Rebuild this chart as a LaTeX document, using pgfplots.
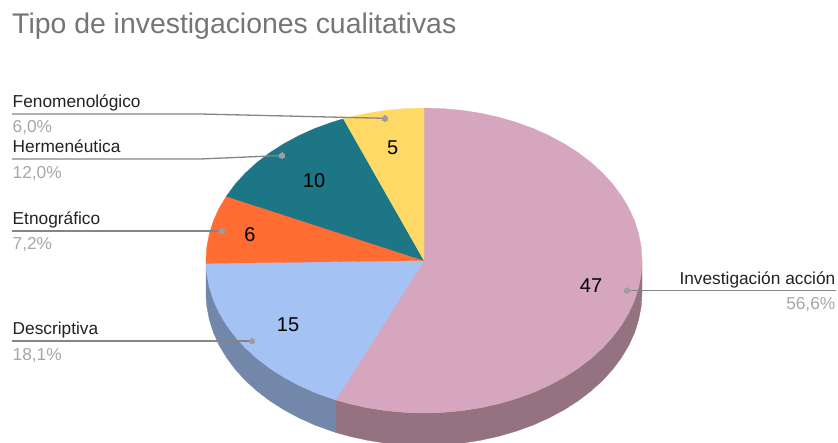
\documentclass[border=0pt]{standalone}
\usepackage{pgfplots}
\pgfplotsset{compat=1.18}
\usepackage{fontspec}
\setmainfont{Liberation Sans}
\definecolor{cpink}{HTML}{D5A6BD}
\definecolor{cblue}{HTML}{A4C2F4}
\definecolor{corange}{HTML}{FF6D33}
\definecolor{cteal}{HTML}{1C7686}
\definecolor{cyellow}{HTML}{FFD966}
\definecolor{wpink}{HTML}{957280}
\definecolor{wblue}{HTML}{7387AB}
\definecolor{ctitle}{HTML}{757575}
\definecolor{cpct}{HTML}{A6A6A6}
\definecolor{clab}{HTML}{222222}
\definecolor{cline}{HTML}{858585}
\definecolor{cdot}{HTML}{9E9E9E}
\newcommand{\lab}[1]{{\fontsize{17.3}{20}\selectfont\color{clab}#1}}
\newcommand{\pct}[1]{{\fontsize{17.3}{20}\selectfont\color{cpct}#1}}
\newcommand{\num}[1]{{\fontsize{20}{24}\selectfont\color{black}#1}}
\begin{document}
\begin{tikzpicture}
\path[use as bounding box] (0,0) rectangle (838pt,442pt);
\begin{axis}[
  at={(0,0)}, anchor=south west,
  width=838pt, height=442pt, scale only axis,
  xmin=0, xmax=838, ymin=0, ymax=442, y dir=reverse,
  axis lines=none, clip=true,
  every axis plot/.append style={line join=round},
]
% side walls
\addplot[fill=wpink, draw=wpink, line width=0.3pt] coordinates {
(642,260.5)(641.2,273.8)(638.7,287)(634.6,300)(628.9,312.7)(621.6,324.9)(612.8,336.75)(602.6,348)(591,358.5)(578.2,368.3)(564.1,377.3)(549,385.4)(533,392.6)(516.1,398.7)(498.6,403.8)(480.4,407.8)(461.9,410.7)(443,412.4)(424,413)(405,412.4)(386.1,410.7)(367.6,407.8)(349.4,403.8)(335.8,400)
(335.8,432.5)(349.4,436.3)(367.6,440.3)(386.1,443.2)(405,444.9)(424,445.5)(443,444.9)(461.9,443.2)(480.4,440.3)(498.6,436.3)(516.1,431.2)(533,425.1)(549,417.9)(564.1,409.8)(578.2,400.8)(591,391)(602.6,380.5)(612.8,369.25)(621.6,357.4)(628.9,345.2)(634.6,332.5)(638.7,319.5)(641.2,306.3)(642,293)(642,260.5)};
\addplot[fill=wblue, draw=wblue, line width=0.3pt] coordinates {
(335.8,400)(331.9,398.7)(315,392.6)(299,385.4)(283.9,377.3)(269.8,368.3)(257,358.5)(245.4,348)(235.2,336.75)(226.4,324.9)(219.1,312.7)(213.4,300)(209.3,287)(206.8,273.8)(206,263.4)
(206,295.9)(206.8,306.3)(209.3,319.5)(213.4,332.5)(219.1,345.2)(226.4,357.4)(235.2,369.25)(245.4,380.5)(257,391)(269.8,400.8)(283.9,409.8)(299,417.9)(315,425.1)(331.9,431.2)(335.8,432.5)(335.8,400)};
% top slices
\addplot[fill=cpink, draw=cpink, line width=0.3pt] coordinates {
(424,260.5)(424,108)(443,108.6)(461.9,110.3)(480.4,113.2)(498.6,117.2)(516.1,122.3)(533,128.4)(549,135.6)(564.1,143.7)(578.2,152.7)(591,162.5)(602.6,173)(612.8,184.25)(621.6,196.1)(628.9,208.3)(634.6,221)(638.7,234)(641.2,247.2)(642,260.5)(641.2,273.8)(638.7,287)(634.6,300)(628.9,312.7)(621.6,324.9)(612.8,336.75)(602.6,348)(591,358.5)(578.2,368.3)(564.1,377.3)(549,385.4)(533,392.6)(516.1,398.7)(498.6,403.8)(480.4,407.8)(461.9,410.7)(443,412.4)(424,413)(405,412.4)(386.1,410.7)(367.6,407.8)(349.4,403.8)(335.8,400)(424,260.5)};
\addplot[fill=cblue, draw=cblue, line width=0.3pt] coordinates {
(424,260.5)(335.8,400)(331.9,398.7)(315,392.6)(299,385.4)(283.9,377.3)(269.8,368.3)(257,358.5)(245.4,348)(235.2,336.75)(226.4,324.9)(219.1,312.7)(213.4,300)(209.3,287)(206.8,273.8)(206,263.4)(424,260.5)};
\addplot[fill=corange, draw=corange, line width=0.3pt] coordinates {
(424,260.5)(206,263.4)(206,260.5)(206.8,247.2)(209.3,234)(213.4,221)(219.1,208.3)(226.3,196.3)(424,260.5)};
\addplot[fill=cteal, draw=cteal, line width=0.3pt] coordinates {
(424,260.5)(226.3,196.3)(235.2,184.25)(245.4,173)(257,162.5)(269.8,152.7)(283.9,143.7)(299,135.6)(315,128.4)(331.9,122.3)(343.4,118.8)(424,260.5)};
\addplot[fill=cyellow, draw=cyellow, line width=0.3pt] coordinates {
(424,260.5)(343.4,118.8)(349.4,117.2)(367.6,113.2)(386.1,110.3)(405,108.6)(424,108)(424,260.5)};
% leader lines
\addplot[cline, line width=1.3pt, no marks] coordinates {(12,114)(200,114)(385,118.3)};
\addplot[cline, line width=1.3pt, no marks] coordinates {(12,159)(200,159)(282,155.5)};
\addplot[cline, line width=1.3pt, no marks] coordinates {(12,231)(222,231)};
\addplot[cline, line width=1.3pt, no marks] coordinates {(12,341)(252,341)};
\addplot[cline, line width=1.3pt, no marks] coordinates {(627,290.5)(836,290.5)};
\addplot[only marks, mark=*, mark size=2.8pt, mark options={fill=cdot, draw=cdot, line width=0pt}, draw=cdot] coordinates {(385,118.3)(282,155.5)(222,231)(252,341)(627,290.5)};
% texts
\node[anchor=base west, inner sep=0pt, text=ctitle] at (axis cs:12,33) {\fontsize{28.4}{32}\selectfont Tipo de investigaciones cualitativas};
\node[anchor=base west, inner sep=0pt] at (axis cs:12.5,107.5) {\lab{Fenomenológico}};
\node[anchor=base west, inner sep=0pt] at (axis cs:12.5,132.7) {\pct{6,0\%}};
\node[anchor=base west, inner sep=0pt] at (axis cs:12.5,152.7) {\lab{Hermenéutica}};
\node[anchor=base west, inner sep=0pt] at (axis cs:12.5,178) {\pct{12,0\%}};
\node[anchor=base west, inner sep=0pt] at (axis cs:12.5,224) {\lab{Etnográfico}};
\node[anchor=base west, inner sep=0pt] at (axis cs:12.5,249) {\pct{7,2\%}};
\node[anchor=base west, inner sep=0pt] at (axis cs:12.5,334.3) {\lab{Descriptiva}};
\node[anchor=base west, inner sep=0pt] at (axis cs:12.5,360) {\pct{18,1\%}};
\node[anchor=base east, inner sep=0pt] at (axis cs:835.5,284) {\lab{Investigación acción}};
\node[anchor=base east, inner sep=0pt] at (axis cs:835.5,309) {\pct{56,6\%}};
\node[anchor=base, inner sep=0pt] at (axis cs:591,292) {\num{47}};
\node[anchor=base, inner sep=0pt] at (axis cs:288,331) {\num{15}};
\node[anchor=base, inner sep=0pt] at (axis cs:250,241.7) {\num{6}};
\node[anchor=base, inner sep=0pt] at (axis cs:314,187) {\num{10}};
\node[anchor=base, inner sep=0pt] at (axis cs:392.7,154) {\num{5}};
\end{axis}
\end{tikzpicture}
\end{document}
